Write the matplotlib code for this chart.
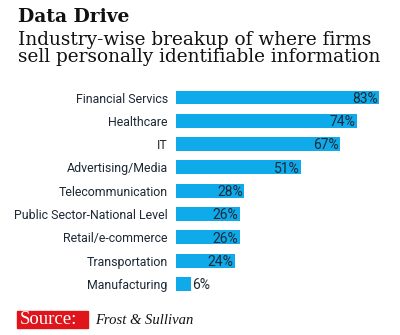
import matplotlib.pyplot as plt
from matplotlib.patches import Rectangle

# data
industries = ["Financial Servics", "Healthcare", "IT", "Advertising/Media",
              "Telecommunication", "Public Sector-National Level",
              "Retail/e-commerce", "Transportation", "Manufacturing"]
shares = [83, 74, 67, 51, 28, 26, 26, 24, 6]

BAR = "#0eaaea"
INK = "#1d2936"
SANS = "Roboto"

W, H = 400, 335
fig = plt.figure(figsize=(W / 100, H / 100), dpi=100)
fig.patch.set_facecolor("white")

# axes placed in pixel terms: x from 176 px, 2.446 px per percent
ax_left, ax_w = 176, 244.6
ax_top, ax_bot = 85.85, 295.65
ax = fig.add_axes([ax_left / W, 1 - ax_bot / H, ax_w / W, (ax_bot - ax_top) / H])

ypos = list(range(len(industries)))
ax.barh(ypos, shares, height=0.6, color=BAR, edgecolor="none")
ax.set_xlim(0, 100)
ax.set_ylim(len(industries) - 0.5, -0.5)
ax.set_yticks(ypos)
ax.set_yticklabels(industries, fontsize=8.9, color=INK, family=SANS)
ax.tick_params(axis="y", length=0, pad=6)
ax.set_xticks([])
for s in ax.spines.values():
    s.set_visible(False)

for y, v in zip(ypos, shares):
    if v > 10:
        ax.text(v - 0.6, y + 0.05, f"{v}%", ha="right", va="center",
                fontsize=10, color=INK, family=SANS)
    else:
        ax.text(v + 0.6, y + 0.05, f"{v}%", ha="left", va="center",
                fontsize=10, color=INK, family=SANS)

# titles
fig.text(18 / W, 1 - 22 / H, "Data Drive", fontsize=13.5, fontweight="bold",
         family="DejaVu Serif", color="#111111", va="baseline")
fig.text(18 / W, 1 - 45 / H, "Industry-wise breakup of where firms",
         fontsize=13.3, family="DejaVu Serif", color="#111111", va="baseline")
fig.text(18 / W, 1 - 62 / H, "sell personally identifiable information",
         fontsize=13.3, family="DejaVu Serif", color="#111111", va="baseline")

# source line
fig.patches.append(Rectangle((17 / W, 1 - 328 / H), 71 / W, 17 / H,
                             transform=fig.transFigure, color="#e0151b", zorder=0))
fig.text(20 / W, 1 - 324.5 / H, "Source:", fontsize=13.5, family="Liberation Serif",
         color="white", va="baseline")
fig.text(95 / W, 1 - 324.5 / H, "Frost & Sullivan", fontsize=10.5, style="italic",
         family="Liberation Serif", color="#111111", va="baseline")

fig.savefig("out.png", dpi=100)
